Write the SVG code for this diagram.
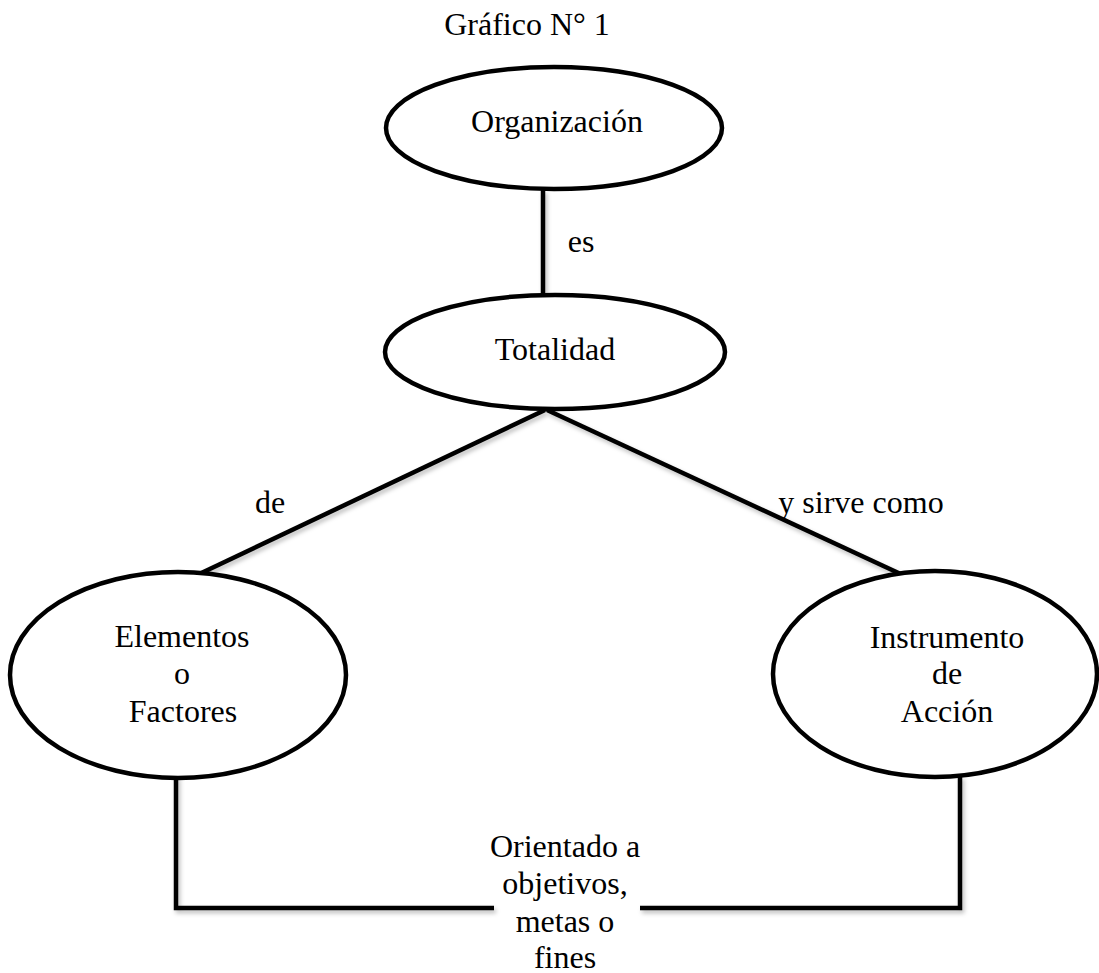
<svg xmlns="http://www.w3.org/2000/svg" width="1099" height="973" viewBox="0 0 1099 973">
<defs>
<style>
text{font-family:"Liberation Serif","Times New Roman","DejaVu Serif",serif;font-size:32px;fill:#000;text-anchor:middle}
.node ellipse{fill:#fff;stroke:#000;stroke-width:4.5}
.conn line,.conn polyline{stroke:#000;stroke-width:4.5;fill:none}
</style>
<filter id="sh" x="-10%" y="-10%" width="120%" height="120%">
<feDropShadow dx="2" dy="3" stdDeviation="2" flood-color="#000" flood-opacity="0.25"/>
</filter>
</defs>
<rect width="1099" height="973" fill="#fff"/>
<text x="527" y="35">Gráfico N° 1</text>
<g id="connectors" class="conn" filter="url(#sh)">
<line x1="543" y1="190" x2="543" y2="296"/>
<line x1="545" y1="410" x2="195" y2="576"/>
<line x1="547" y1="410" x2="905" y2="576"/>
<polyline points="176,776 176,908 494,908"/>
<polyline points="640,908 960,908 960,776"/>
</g>
<g id="labels">
<text x="581" y="252">es</text>
<text x="270" y="513">de</text>
<text x="861" y="513">y sirve como</text>
<text x="565" y="857">Orientado a</text>
<text x="565" y="894">objetivos,</text>
<text x="565" y="932">metas o</text>
<text x="565" y="968">fines</text>
</g>
<g id="organizacion" class="node">
<ellipse cx="554" cy="128" rx="168" ry="61"/>
<text x="557" y="132">Organización</text>
</g>
<g id="totalidad" class="node">
<ellipse cx="555" cy="352" rx="170" ry="57"/>
<text x="555" y="360">Totalidad</text>
</g>
<g id="elementos" class="node">
<ellipse cx="178" cy="675" rx="168" ry="103"/>
<text x="182" y="647">Elementos</text>
<text x="182" y="684">o</text>
<text x="183" y="722">Factores</text>
</g>
<g id="instrumento" class="node">
<ellipse cx="935" cy="674" rx="162" ry="103"/>
<text x="947" y="648">Instrumento</text>
<text x="947" y="684">de</text>
<text x="947" y="722">Acción</text>
</g>
</svg>
